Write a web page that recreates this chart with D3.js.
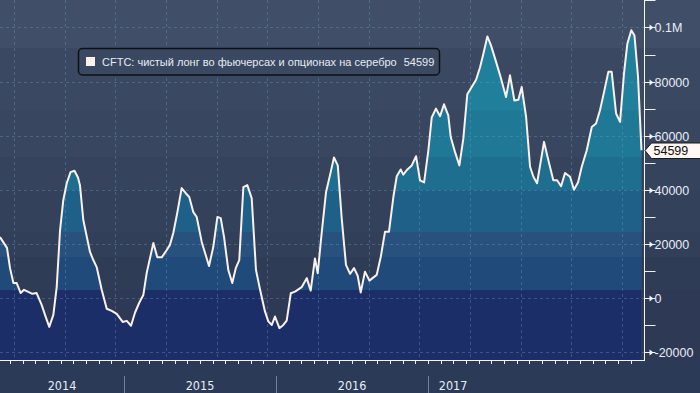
<!DOCTYPE html>
<html>
<head>
<meta charset="utf-8">
<script src="https://d3js.org/d3.v7.min.js"></script>
<style>
  body { margin: 0; background: #2b3a57; }
  svg { display: block; }
  text { font-family: "Liberation Sans", Arial, sans-serif; }
</style>
</head>
<body>
<div id="chart"></div>
<script>
// time position in decimal years
var t = [
  2014.184, 2014.217, 2014.230, 2014.250, 2014.272, 2014.294, 2014.320, 2014.342, 2014.370, 2014.397,
  2014.425, 2014.458, 2014.480, 2014.508, 2014.535, 2014.557, 2014.579, 2014.600, 2014.623, 2014.648,
  2014.674, 2014.697, 2014.710, 2014.732, 2014.776, 2014.798, 2014.820, 2014.853, 2014.886, 2014.919,
  2014.952, 2014.991, 2015.018, 2015.046, 2015.072, 2015.100, 2015.127, 2015.149, 2015.193, 2015.219,
  2015.248, 2015.281, 2015.302, 2015.324, 2015.350, 2015.379, 2015.406, 2015.429, 2015.456, 2015.478,
  2015.511, 2015.559, 2015.587, 2015.614, 2015.636, 2015.658, 2015.686, 2015.712, 2015.735, 2015.758,
  2015.785, 2015.811, 2015.840, 2015.868, 2015.895, 2015.927, 2015.949, 2015.972, 2015.993, 2016.022,
  2016.048, 2016.070, 2016.097, 2016.125, 2016.169, 2016.202, 2016.228, 2016.256, 2016.274, 2016.300,
  2016.329, 2016.355, 2016.381, 2016.406, 2016.432, 2016.460, 2016.487, 2016.513, 2016.537, 2016.557,
  2016.585, 2016.614, 2016.662, 2016.689, 2016.717, 2016.743, 2016.772, 2016.794, 2016.820, 2016.837,
  2016.864, 2016.893, 2016.921, 2016.947, 2016.974, 2017.002, 2017.024, 2017.052, 2017.079, 2017.105,
  2017.133, 2017.149, 2017.177, 2017.206, 2017.232, 2017.258, 2017.287, 2017.316, 2017.342, 2017.364,
  2017.390, 2017.414, 2017.441, 2017.474, 2017.513, 2017.539, 2017.568, 2017.594, 2017.616, 2017.645,
  2017.671, 2017.693, 2017.717, 2017.763, 2017.791, 2017.824, 2017.849, 2017.875, 2017.901, 2017.934,
  2017.960, 2017.987, 2018.011, 2018.044, 2018.077, 2018.105, 2018.131, 2018.158, 2018.186, 2018.208,
  2018.237, 2018.263, 2018.289, 2018.311, 2018.337, 2018.358, 2018.381, 2018.404
];
// CFTC silver net long, contracts
var netLong = [
  22500, 19600, 18500, 11000, 5500, 5500, 1800, 3000, 2200, 1500,
  1800, -2600, -6300, -10700, -6300, 4000, 25000, 36000, 42400, 46500,
  47000, 44500, 41700, 28800, 17000, 14000, 11400, 3000, -4000, -4800,
  -5900, -8900, -8500, -10300, -5500, -1800, 1100, 9200, 20300, 15000,
  15000, 17700, 19600, 24000, 31400, 40600, 38700, 37300, 31700, 29900,
  20700, 11800, 18800, 29900, 29500, 22500, 10300, 5500, 11000, 14000,
  41000, 41700, 36800, 10300, 3000, -5000, -8700, -10000, -6900, -11200,
  -10000, -8400, 1700, 2300, 4000, 7300, 2700, 14600, 9100, 23900,
  39200, 45400, 51900, 49000, 29400, 12200, 8900, 11000, 8200, 2000,
  9700, 6400, 8500, 15200, 24500, 24500, 37400, 45000, 47500, 45600,
  47500, 49000, 52400, 43500, 42700, 54600, 66700, 70000, 67200, 71600,
  67500, 59500, 54000, 49000, 58900, 75300, 78000, 80700, 85300, 90300,
  96700, 93400, 88500, 82300, 74300, 82300, 73000, 73300, 78000, 66900,
  48500, 44800, 42400, 57700, 51000, 43500, 43500, 41300, 46200, 44800,
  40000, 42800, 48500, 54600, 63200, 64500, 69400, 76200, 83600, 83600,
  68200, 65100, 83000, 94000, 99000, 97000, 82000, 54599
];
var yTicks = [100000, 80000, 60000, 40000, 20000, 0, -20000];
var yTickLabels = ['0.1M', '80000', '60000', '40000', '20000', '0', '-20000'];
var years = ['2014', '2015', '2016', '2017'];
var yearStarts = [2015, 2016, 2017];
var yearLabelAt = [2014.592, 2015.5, 2016.5, 2017.165];
var legendLabel = 'CFTC: чистый лонг во фьючерсах и опционах на серебро';
var lastValue = 54599;

var W = 700, H = 393, plotR = 643, axisX = 644.5, plotB = 360;

// horizontal colour bands (pixel edges) of the background and the area
var bandEdges = [0, 48, 110, 157, 190, 232, 257, 290, plotB];
var bgColors = ['#414e68', '#3b4862', '#394660', '#36435d', '#34415b', '#323f59', '#2f3c56', '#2e3a55'];
var areaColors = ['#22839f', '#20809c', '#1f7896', '#1e6f8f', '#1e6088', '#28527d', '#1f4a7a', '#1c2e67'];

var data = t.map(function(d, i) { return {t: d, v: netLong[i]}; });

var x = d3.scaleLinear().domain([2014.184, 2018.414]).range([0, plotR]);
var y = d3.scaleLinear().domain([-22970, 110170]).range([plotB, 0]);

var svg = d3.select('#chart').append('svg')
    .attr('width', W).attr('height', H);

// background
svg.append('rect').attr('width', W).attr('height', H).attr('fill', '#2b3a57');
svg.selectAll('.bg').data(bgColors).enter().append('rect')
    .attr('x', 0).attr('width', W)
    .attr('y', function(d, i) { return bandEdges[i]; })
    .attr('height', function(d, i) { return bandEdges[i + 1] - bandEdges[i]; })
    .attr('fill', function(d) { return d; });

// area down to the bottom of the plot, coloured by band
var area = d3.area()
    .x(function(d) { return x(d.t); })
    .y0(plotB)
    .y1(function(d) { return y(d.v); });

svg.append('clipPath').attr('id', 'areaClip')
  .append('path').attr('d', area(data));

svg.append('g').attr('clip-path', 'url(#areaClip)')
  .selectAll('rect').data(areaColors).enter().append('rect')
    .attr('x', 0).attr('width', plotR)
    .attr('y', function(d, i) { return bandEdges[i]; })
    .attr('height', function(d, i) { return bandEdges[i + 1] - bandEdges[i]; })
    .attr('fill', function(d) { return d; });

// dashed grid
var gridCol = 'rgba(110,160,205,0.35)';
svg.selectAll('.hgrid').data(yTicks).enter().append('line')
    .attr('x1', 0).attr('x2', axisX)
    .attr('y1', function(d) { return Math.round(y(d)) + 0.5; })
    .attr('y2', function(d) { return Math.round(y(d)) + 0.5; })
    .attr('stroke', gridCol).attr('stroke-dasharray', '3,3');

var gridT = [];
[2014, 2015, 2016, 2017, 2018].forEach(function(yr) {
  [3, 7, 11].forEach(function(m) { gridT.push(yr + (m + 0.3) / 12); });
});
gridT = gridT.filter(function(d) { return x(d) > 0 && x(d) < plotR; });
svg.selectAll('.vgrid').data(gridT).enter().append('line')
    .attr('x1', function(d) { return Math.round(x(d)) + 0.5; })
    .attr('x2', function(d) { return Math.round(x(d)) + 0.5; })
    .attr('y1', 0).attr('y2', plotB)
    .attr('stroke', gridCol).attr('stroke-dasharray', '3,3');

// series line
svg.append('path')
    .attr('d', d3.line().x(function(d) { return x(d.t); }).y(function(d) { return y(d.v); })(data))
    .attr('fill', 'none').attr('stroke', '#fbf1ec').attr('stroke-width', 2)
    .attr('stroke-linejoin', 'round');

// right axis
svg.append('line').attr('x1', axisX).attr('x2', axisX).attr('y1', 0).attr('y2', plotB + 1)
    .attr('stroke', '#f4f4f4');
var minor = d3.range(-20000, 110001, 10000);
svg.selectAll('.minor').data(minor).enter().append('line')
    .attr('x1', axisX).attr('x2', axisX + 11)
    .attr('y1', function(d) { return Math.round(y(d)) + 0.5; })
    .attr('y2', function(d) { return Math.round(y(d)) + 0.5; })
    .attr('stroke', '#f0f0f0');
var yt = svg.selectAll('.ytick').data(yTicks).enter().append('g')
    .attr('transform', function(d) { return 'translate(' + axisX + ',' + (Math.round(y(d)) + 0.5) + ')'; });
yt.append('path').attr('d', 'M5,-3L9,0L5,3Z').attr('fill', '#f4f4f4');
yt.append('text').attr('x', 10).attr('dy', '0.36em')
    .attr('fill', '#e8eef6').style('font-size', '12.5px')
    .text(function(d, i) { return yTickLabels[i]; });

// bottom axis
svg.append('line').attr('x1', 0).attr('x2', axisX).attr('y1', plotB + 0.5).attr('y2', plotB + 0.5)
    .attr('stroke', '#f4f4f4');
var months = [];
[2014, 2015, 2016, 2017, 2018].forEach(function(yr) {
  d3.range(12).forEach(function(m) { months.push(yr + m / 12); });
});
months = months.filter(function(d) { return x(d) > 0 && x(d) < plotR; });
svg.selectAll('.mtick').data(months).enter().append('line')
    .attr('x1', function(d) { return Math.round(x(d)) + 0.5; })
    .attr('x2', function(d) { return Math.round(x(d)) + 0.5; })
    .attr('y1', plotB).attr('y2', plotB + 4)
    .attr('stroke', '#f0f0f0');
svg.selectAll('.ysep').data(yearStarts).enter().append('line')
    .attr('x1', function(d) { return Math.round(x(d)) + 0.5; })
    .attr('x2', function(d) { return Math.round(x(d)) + 0.5; })
    .attr('y1', 376).attr('y2', H)
    .attr('stroke', '#76819a');
svg.selectAll('.ylab').data(years).enter().append('text')
    .attr('x', function(d, i) { return x(yearLabelAt[i]); })
    .attr('y', 389.5)
    .attr('text-anchor', 'middle')
    .attr('fill', '#e8eef6')
    .style('font-family', '"Liberation Sans Narrow", "Arial Narrow", "DejaVu Sans Condensed", sans-serif')
    .style('font-size', '12.5px')
    .text(function(d) { return d; });

// legend
var lg = svg.append('g');
lg.append('rect').attr('x', 78.5).attr('y', 48.5).attr('width', 361).attr('height', 26.5).attr('rx', 4)
    .attr('fill', '#3b4862').attr('stroke', '#0e1016').attr('stroke-width', 1.5);
lg.append('rect').attr('x', 86).attr('y', 57).attr('width', 9).attr('height', 9).attr('fill', '#fdf0ea');
var lt = lg.append('text').attr('x', 102).attr('y', 66).attr('fill', '#e6ecf4').style('font-size', '11px');
lt.append('tspan').text(legendLabel);
lt.append('tspan').attr('dx', 7).text(lastValue);

// last value tag
var ly = Math.round(y(lastValue)) + 0.5;
svg.append('path')
    .attr('d', 'M' + (axisX + 0.5) + ',' + ly + 'L' + (axisX + 7) + ',' + (ly - 7.5) + 'L' + (W + 2) + ',' + (ly - 7.5)
      + 'L' + (W + 2) + ',' + (ly + 8) + 'L' + (axisX + 7) + ',' + (ly + 8) + 'Z')
    .attr('fill', '#fff7f1').attr('stroke', '#1b1b1b');
svg.append('text').attr('x', axisX + 9).attr('y', ly).attr('dy', '0.38em')
    .attr('fill', '#111').style('font-size', '12.5px').text(lastValue);
</script>
</body>
</html>
